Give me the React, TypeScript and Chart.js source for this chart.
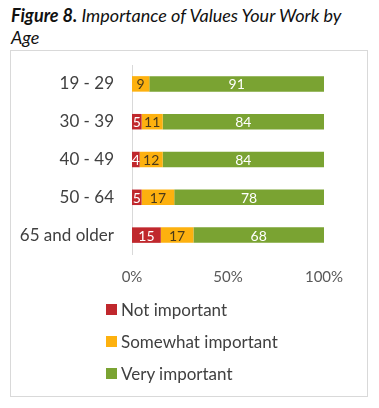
import React, { useEffect, useRef } from "react";
import { Chart, registerables } from "chart.js";

Chart.register(...registerables);

const categories = ["19 - 29", "30 - 39", "40 - 49", "50 - 64", "65 and older"];
const notImportant = [0, 5, 4, 5, 15];
const somewhatImportant = [9, 11, 12, 17, 17];
const veryImportant = [91, 84, 84, 78, 68];
const seriesNames = ["Not important", "Somewhat important", "Very important"];
const seriesColors = ["#C0282D", "#FDB10F", "#7AA332"];
const labelColors = ["#FFFFFF", "#4A3A1A", "#FFFFFF"];
const xTicks = [0, 50, 100];

const FONT = "Lato, 'Open Sans', sans-serif";

const dataLabelPlugin = {
  id: "segLabels",
  afterDatasetsDraw(chart: any) {
    const ctx = chart.ctx;
    ctx.save();
    ctx.font = `14px ${FONT}`;
    ctx.textAlign = "center";
    ctx.textBaseline = "middle";
    chart.data.datasets.forEach((ds: any, di: number) => {
      const meta = chart.getDatasetMeta(di);
      meta.data.forEach((el: any, i: number) => {
        const v = ds.data[i];
        if (!v) return;
        ctx.fillStyle = labelColors[di];
        ctx.fillText(String(v), (el.x + el.base) / 2, el.y + 1);
      });
    });
    ctx.restore();
  },
};

export default function App() {
  const ref = useRef<HTMLCanvasElement>(null);
  useEffect(() => {
    const datasets = [notImportant, somewhatImportant, veryImportant].map((d, i) => ({
      label: seriesNames[i],
      data: d,
      backgroundColor: seriesColors[i],
      borderWidth: 0,
      categoryPercentage: 1,
      barPercentage: 0.41,
    }));
    const chart = new Chart(ref.current!, {
      type: "bar",
      data: { labels: categories, datasets },
      options: {
        indexAxis: "y",
        animation: false,
        responsive: false,
        maintainAspectRatio: false,
        layout: { padding: { top: 15, right: 55, bottom: 0, left: 0 } },
        plugins: { legend: { display: false }, tooltip: { enabled: false } },
        scales: {
          x: {
            stacked: true,
            min: 0,
            max: 100,
            grid: { display: false, drawTicks: false },
            border: { display: false },
            afterBuildTicks: (scale: any) => {
              scale.ticks = xTicks.map((v) => ({ value: v }));
            },
            ticks: {
              padding: 14,
              color: "#595959",
              font: { family: FONT, size: 15 },
              callback: (v: any) => v + "%",
            },
          },
          y: {
            stacked: true,
            grid: { display: false, drawTicks: false },
            border: { display: true, color: "#D9D9D9", width: 1 },
            afterFit: (scale: any) => {
              scale.width = 132;
              scale.paddingTop = 0;
              scale.paddingBottom = 0;
            },
            ticks: {
              padding: 18,
              color: "#404040",
              font: { family: FONT, size: 17 },
            },
          },
        },
      },
      plugins: [dataLabelPlugin],
    });
    return () => chart.destroy();
  }, []);

  return (
    <div style={{ position: "absolute", left: 0, top: 0, width: 379, height: 408, background: "#fff", fontFamily: FONT }}>
      <div style={{ position: "absolute", left: 11, top: 4, width: 368, fontSize: 18, lineHeight: "22px", fontStyle: "italic", color: "#111" }}>
        <b>Figure 8.</b> Importance of Values Your Work by
        <br />
        Age
      </div>
      <div style={{ position: "absolute", left: 10, top: 50, width: 356, height: 345, border: "1px solid #D9D9D9" }} />
      <canvas ref={ref} width={379} height={250} style={{ position: "absolute", left: 0, top: 50, width: 379, height: 250 }} />
      <div style={{ position: "absolute", left: 106, top: 293, fontSize: 17, color: "#404040" }}>
        {seriesNames.map((n, i) => (
          <div key={n} style={{ display: "flex", alignItems: "center", height: 32 }}>
            <span style={{ display: "inline-block", width: 11, height: 11, background: seriesColors[i], marginRight: 4 }} />
            <span>{n}</span>
          </div>
        ))}
      </div>
    </div>
  );
}
